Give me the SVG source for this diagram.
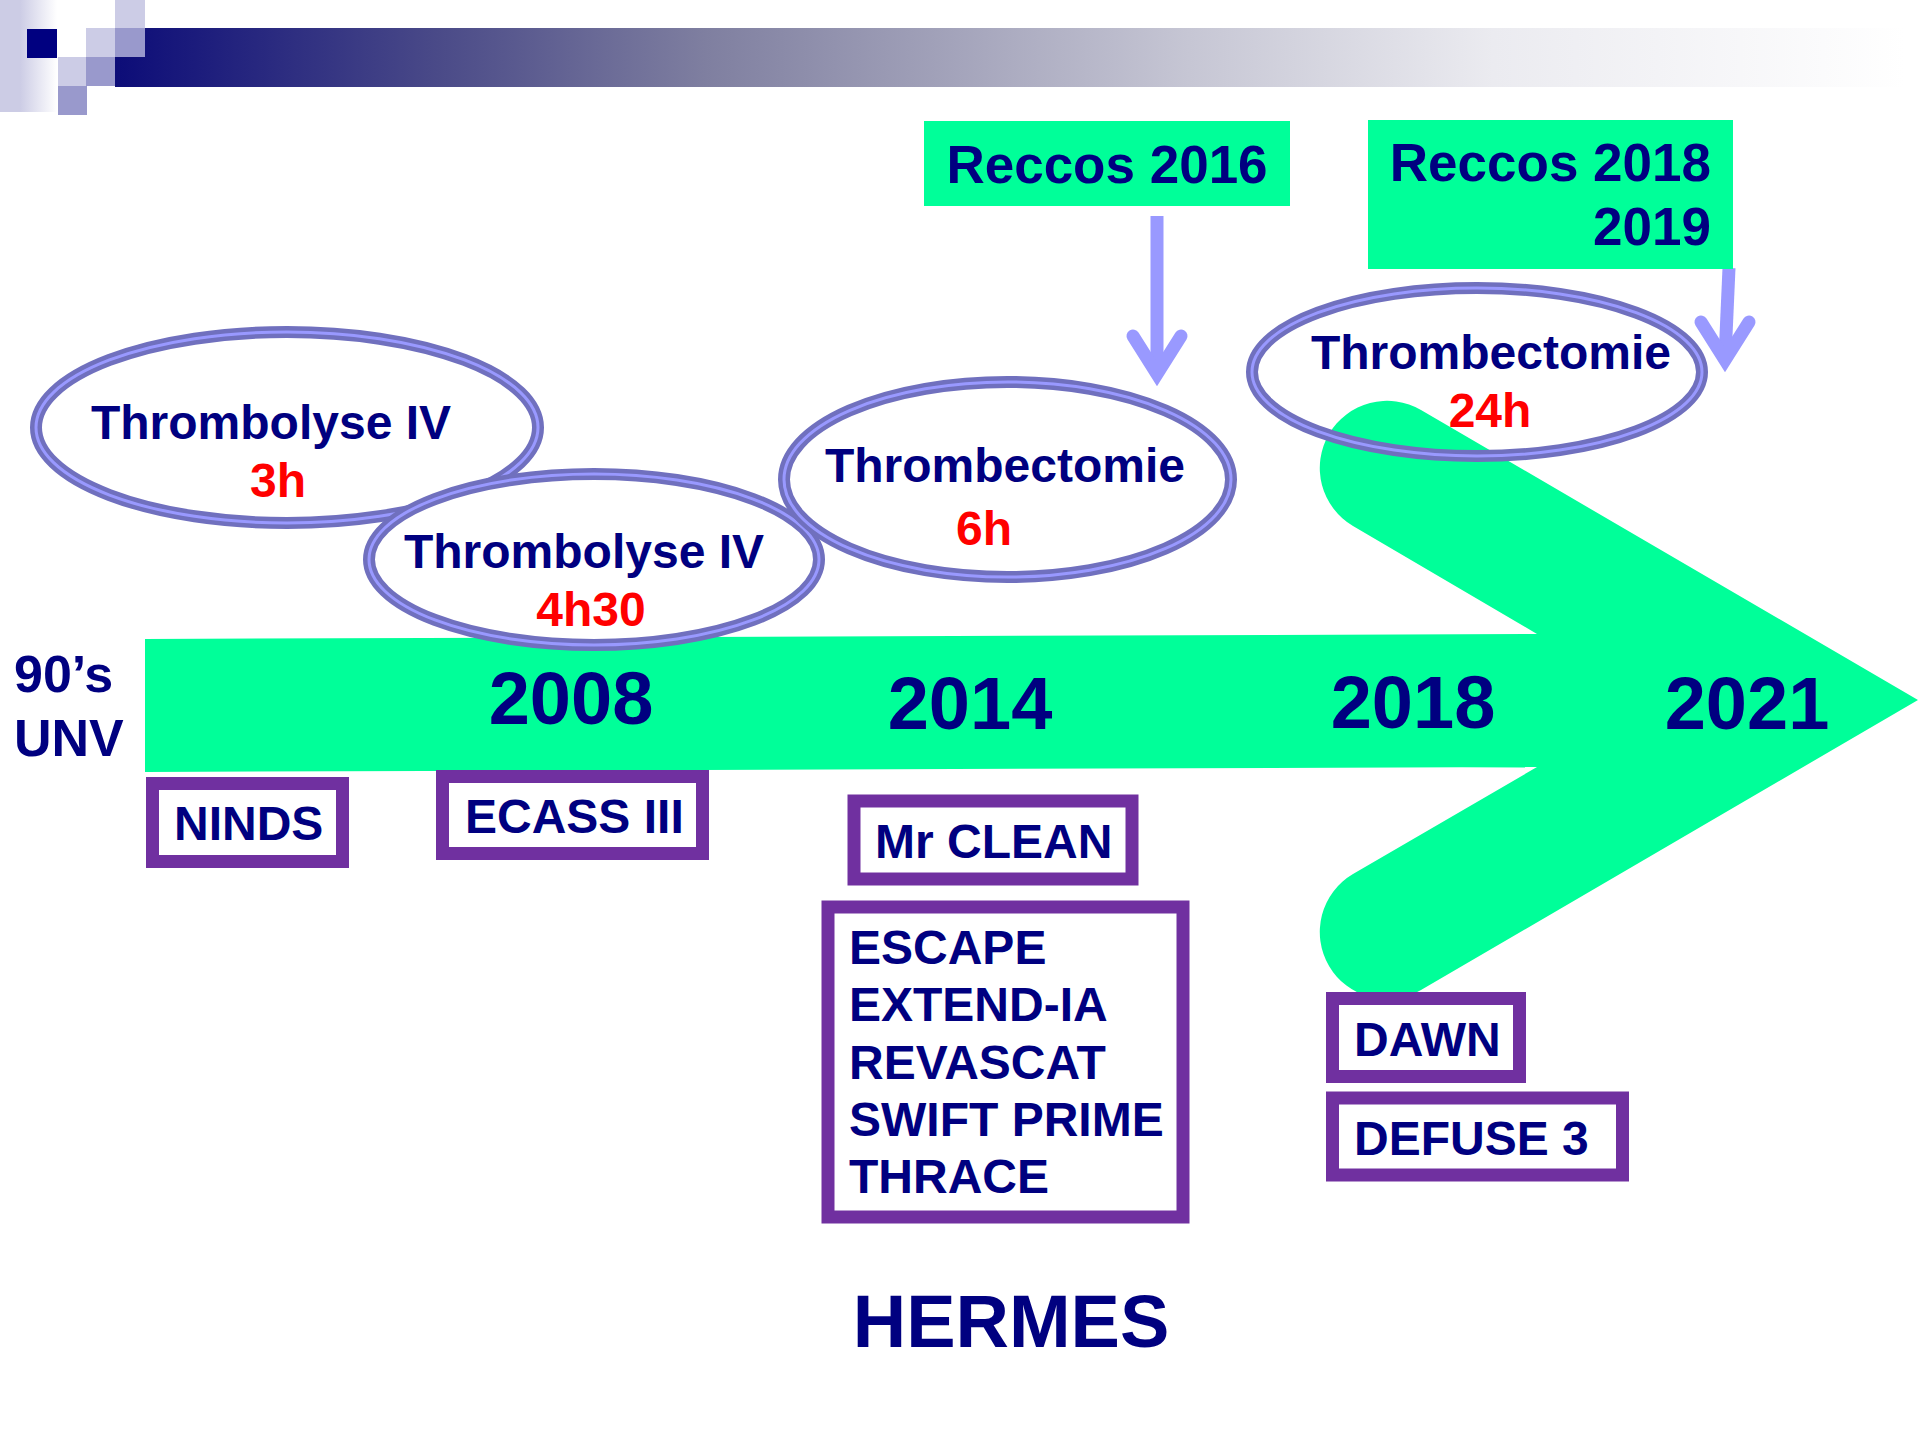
<svg xmlns="http://www.w3.org/2000/svg" width="1920" height="1440" viewBox="0 0 1920 1440">
<defs>
<linearGradient id="barGrad" x1="115" y1="0" x2="1905" y2="0" gradientUnits="userSpaceOnUse">
<stop offset="0" stop-color="#0C0C78"/>
<stop offset="0.18" stop-color="#4A4A88"/>
<stop offset="0.33" stop-color="#7F7FA0"/>
<stop offset="0.6" stop-color="#C6C6D4"/>
<stop offset="0.77" stop-color="#EBEBF0"/>
<stop offset="1" stop-color="#FFFFFF"/>
</linearGradient>
<linearGradient id="stripGrad" x1="0" y1="0" x2="57" y2="0" gradientUnits="userSpaceOnUse">
<stop offset="0" stop-color="#CCCCE5"/>
<stop offset="0.35" stop-color="#CCCCE5"/>
<stop offset="1" stop-color="#FFFFFF"/>
</linearGradient>
</defs>
<style>
.t{font-family:"Liberation Sans",Arial,sans-serif;font-weight:bold;fill:#000080}
.r{fill:#FF0000}
.e48{font-size:48px}
.yr{font-size:74px}
.box{fill:#FFFFFF;stroke:#7030A0;stroke-width:13}
.ell{stroke:#7070BE;stroke-width:12}
.ellin{fill:none;stroke:#9999FF;stroke-width:3}
.arr{fill:none;stroke:#9999FF;stroke-width:13}
.green{fill:#00FF99}
</style>
<rect width="1920" height="1440" fill="#FFFFFF"/>
<g id="header">
<rect x="0" y="0" width="57" height="112" fill="url(#stripGrad)"/>
<rect x="115" y="28" width="1790" height="59" fill="url(#barGrad)"/>
<rect x="27" y="29" width="30" height="29" fill="#000080"/>
<rect x="115" y="0" width="30" height="28" fill="#CCCCE6"/>
<rect x="86" y="28" width="29" height="29" fill="#CCCCE6"/>
<rect x="115" y="28" width="30" height="29" fill="#9999CC"/>
<rect x="58" y="57" width="28" height="29" fill="#CCCCE6"/>
<rect x="86" y="57" width="29" height="29" fill="#9999CC"/>
<rect x="58" y="86" width="29" height="29" fill="#9999CC"/>
</g>
<g id="timeline-arrow">
<path class="green" d="M145,639 L1537,634 L1353,526 A67,67 0 0 1 1421,410 L1918,700 L1421,990 A67,67 0 0 1 1353,874 L1537,767 L145,772 Z"/>
</g>
<g id="connectors">
<line class="arr" x1="1157" y1="216" x2="1157" y2="372"/>
<polyline class="arr" points="1133,336 1157,374 1181,336" stroke-linecap="round" stroke-linejoin="miter"/>
<line class="arr" x1="1729" y1="268" x2="1725" y2="358"/>
<polyline class="arr" points="1701,322 1725,360 1749,322" stroke-linecap="round" stroke-linejoin="miter"/>
</g>
<g id="reccos2016">
<rect x="924" y="121" width="366" height="85" class="green"/>
<text class="t" x="1107" y="183" font-size="53" text-anchor="middle">Reccos 2016</text>
</g>
<g id="reccos2018">
<rect x="1368" y="120" width="365" height="149" class="green"/>
<text class="t" x="1711" y="181" font-size="53" text-anchor="end">Reccos 2018</text>
<text class="t" x="1711" y="245" font-size="53" text-anchor="end">2019</text>
</g>
<g id="thrombolyse3h">
<ellipse cx="287" cy="427.5" rx="251" ry="95.5" class="ell" fill="#FFFFFF"/>
<ellipse cx="287" cy="427.5" rx="251" ry="95.5" class="ellin"/>
<text class="t e48" x="271" y="439" text-anchor="middle">Thrombolyse IV</text>
<text class="t e48 r" x="278" y="497" text-anchor="middle">3h</text>
</g>
<g id="thrombolyse4h30">
<ellipse cx="594" cy="559.5" rx="225" ry="85.5" class="ell" fill="#FFFFFF"/>
<ellipse cx="594" cy="559.5" rx="225" ry="85.5" class="ellin"/>
<text class="t e48" x="584" y="568" text-anchor="middle">Thrombolyse IV</text>
<text class="t e48 r" x="591" y="626" text-anchor="middle">4h30</text>
</g>
<g id="thrombectomie6h">
<ellipse cx="1007.5" cy="479.5" rx="223.5" ry="97.5" class="ell" fill="#FFFFFF"/>
<ellipse cx="1007.5" cy="479.5" rx="223.5" ry="97.5" class="ellin"/>
<text class="t e48" x="1005" y="482" text-anchor="middle">Thrombectomie</text>
<text class="t e48 r" x="984" y="545" text-anchor="middle">6h</text>
</g>
<g id="thrombectomie24h">
<ellipse cx="1477" cy="372" rx="225" ry="84" class="ell" fill="none"/>
<ellipse cx="1477" cy="372" rx="225" ry="84" class="ellin"/>
<text class="t e48" x="1491" y="369" text-anchor="middle">Thrombectomie</text>
<text class="t e48 r" x="1490" y="427" text-anchor="middle">24h</text>
</g>
<g id="years">
<text class="t" x="14" y="692" font-size="52">90’s</text>
<text class="t" x="14" y="756" font-size="52">UNV</text>
<text class="t yr" x="571" y="724" text-anchor="middle">2008</text>
<text class="t yr" x="970" y="729" text-anchor="middle">2014</text>
<text class="t yr" x="1413" y="728" text-anchor="middle">2018</text>
<text class="t yr" x="1747" y="729" text-anchor="middle">2021</text>
</g>
<g id="ninds">
<rect x="152.5" y="783.5" width="190" height="78" class="box"/>
<text class="t e48" x="174" y="840">NINDS</text>
</g>
<g id="ecass">
<rect x="442.5" y="776.5" width="260" height="77" class="box"/>
<text class="t e48" x="465" y="833">ECASS III</text>
</g>
<g id="mrclean">
<rect x="854" y="801" width="278" height="78" class="box" stroke-width="14"/>
<text class="t e48" x="875" y="858">Mr CLEAN</text>
</g>
<g id="trials2015">
<rect x="828" y="907" width="355" height="310" class="box" stroke-width="12"/>
<text class="t e48" x="849" y="964">ESCAPE</text>
<text class="t e48" x="849" y="1021">EXTEND-IA</text>
<text class="t e48" x="849" y="1079">REVASCAT</text>
<text class="t e48" x="849" y="1136">SWIFT PRIME</text>
<text class="t e48" x="849" y="1193">THRACE</text>
</g>
<g id="dawn">
<rect x="1332.5" y="998.5" width="187" height="78" class="box"/>
<text class="t e48" x="1354" y="1056">DAWN</text>
</g>
<g id="defuse">
<rect x="1332.5" y="1098" width="290" height="77" class="box"/>
<text class="t e48" x="1354" y="1155">DEFUSE 3</text>
</g>
<g id="hermes">
<text class="t" x="1011" y="1347" font-size="74" text-anchor="middle">HERMES</text>
</g>
</svg>
